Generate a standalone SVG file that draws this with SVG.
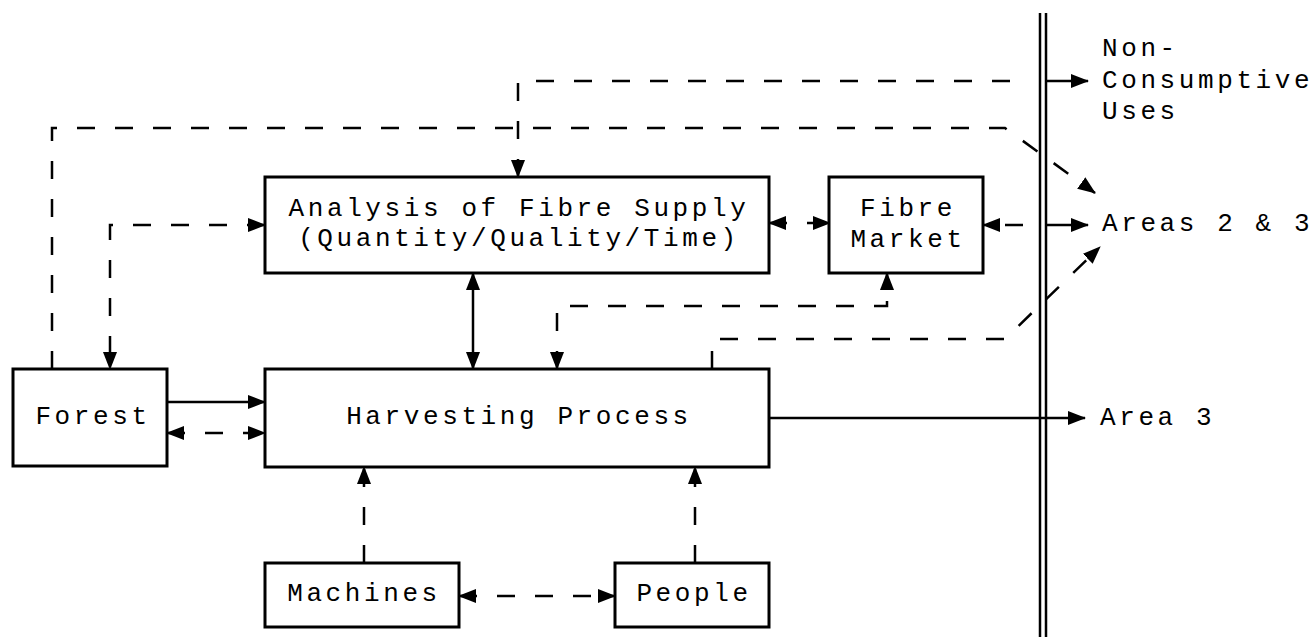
<svg xmlns="http://www.w3.org/2000/svg" width="1315" height="637" viewBox="0 0 1315 637">
<style>
  .box { fill: #fff; stroke: #000; stroke-width: 3; }
  .lbl { font-family: "Liberation Mono", "DejaVu Sans Mono", monospace; font-size: 26px; letter-spacing: 3.6px; fill: #000; }
  .mid { text-anchor: middle; }
  .solid { fill: none; stroke: #000; stroke-width: 2.5; }
  .dash { fill: none; stroke: #000; stroke-width: 2.5; stroke-dasharray: 18 20; }
</style>
<defs>
  <marker id="ah" markerUnits="userSpaceOnUse" markerWidth="18" markerHeight="14" refX="17" refY="7" orient="auto-start-reverse">
    <path d="M0,0 L18,7 L0,14 z" fill="#000"/>
  </marker>
</defs>
<rect width="1315" height="637" fill="#fff"/>

<g id="boundary">
  <line x1="1040" y1="13" x2="1040" y2="637" stroke="#000" stroke-width="2.5"/>
  <line x1="1046" y1="13" x2="1046" y2="637" stroke="#000" stroke-width="2.5"/>
</g>

<g id="connectors">
  <path class="dash" d="M52,369 V128 H1005 L1095,193" marker-end="url(#ah)"/>
  <path class="dash" d="M265,225 H110 V369" marker-start="url(#ah)" marker-end="url(#ah)"/>
  <path class="dash" d="M518,177 V81 H1025" marker-start="url(#ah)"/>
  <path class="solid" d="M1046,81 H1088" marker-end="url(#ah)"/>
  <path class="solid" d="M473,273 V369" marker-start="url(#ah)" marker-end="url(#ah)"/>
  <path class="dash" d="M769,223 H830" stroke-dasharray="0 26 10 60" marker-start="url(#ah)" marker-end="url(#ah)"/>
  <path class="dash" d="M1023,225 H983" marker-end="url(#ah)"/>
  <path class="solid" d="M1046,225 H1088" marker-end="url(#ah)"/>
  <path class="dash" d="M557,369 V306 H887 V273" marker-start="url(#ah)" marker-end="url(#ah)"/>
  <path class="dash" d="M712,369 V339 H1005 L1100,247" marker-end="url(#ah)"/>
  <path class="solid" d="M769,418 H1085" marker-end="url(#ah)"/>
  <path class="solid" d="M167,402 H265" marker-end="url(#ah)"/>
  <path class="dash" d="M167,433 H265" stroke-dasharray="0 38 12 60" marker-start="url(#ah)" marker-end="url(#ah)"/>
  <path class="dash" d="M364,563 V467" marker-end="url(#ah)"/>
  <path class="dash" d="M695,563 V467" marker-end="url(#ah)"/>
  <path class="dash" d="M459,596 H615" marker-start="url(#ah)" marker-end="url(#ah)"/>
</g>

<g id="analysis">
  <rect class="box" x="265" y="177" width="504" height="96"/>
  <text class="lbl mid" x="519" y="216">Analysis of Fibre Supply</text>
  <text class="lbl mid" x="519" y="246">(Quantity/Quality/Time)</text>
</g>
<g id="fibre-market">
  <rect class="box" x="829" y="177" width="154" height="96"/>
  <text class="lbl mid" x="908" y="216">Fibre</text>
  <text class="lbl mid" x="908" y="247">Market</text>
</g>
<g id="forest">
  <rect class="box" x="13" y="369" width="154" height="97"/>
  <text class="lbl mid" x="93" y="424">Forest</text>
</g>
<g id="harvesting">
  <rect class="box" x="265" y="369" width="504" height="98"/>
  <text class="lbl mid" x="519" y="424">Harvesting Process</text>
</g>
<g id="machines">
  <rect class="box" x="265" y="563" width="194" height="64"/>
  <text class="lbl mid" x="364" y="601">Machines</text>
</g>
<g id="people">
  <rect class="box" x="615" y="563" width="154" height="64"/>
  <text class="lbl mid" x="694" y="601">People</text>
</g>
<g id="outputs">
  <text class="lbl" x="1102" y="56">Non-</text>
  <text class="lbl" x="1102" y="88">Consumptive</text>
  <text class="lbl" x="1102" y="119">Uses</text>
  <text class="lbl" x="1102" y="231">Areas 2 &amp; 3</text>
  <text class="lbl" x="1100" y="425">Area 3</text>
</g>
</svg>
